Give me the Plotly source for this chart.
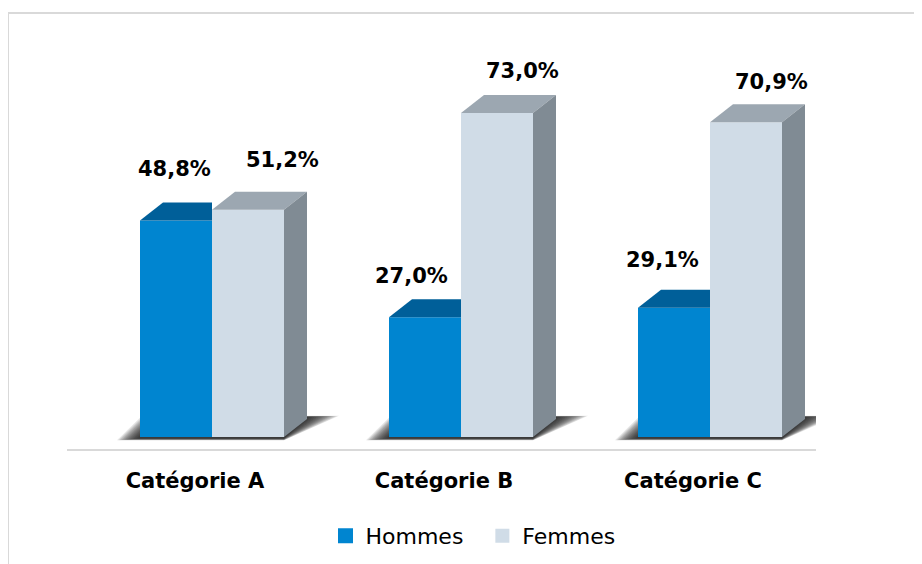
import plotly.graph_objects as go

categories = ["Catégorie A", "Catégorie B", "Catégorie C"]
hommes = [48.8, 27.0, 29.1]
femmes = [51.2, 73.0, 70.9]
series_names = ["Hommes", "Femmes"]
label_texts_h = ["48,8%", "27,0%", "29,1%"]
label_texts_f = ["51,2%", "73,0%", "70,9%"]

# ---- styling / geometry (pixels converted to axis units) ----
W, H = 922, 564
OFF = 8               # page body margin
PLOT_L, PLOT_R = 67 - OFF, 816 - OFF
PLOT_T, PLOT_B = 50 - OFF, 449 - OFF
BASE = 437 - OFF
ML, MR, MT, MB = PLOT_L, W - PLOT_R, PLOT_T, H - PLOT_B
PW, PH = PLOT_R - PLOT_L, PLOT_B - PLOT_T

PX_X = 249.0          # pixels per category unit
PX_Y = 4.438          # pixels per value unit
CAT0 = 195 - OFF      # pixel of first category tick
X0 = -(CAT0 - PLOT_L) / PX_X
X1 = X0 + PW / PX_X
Y0 = -(PLOT_B - BASE) / PX_Y
Y1 = Y0 + PH / PX_Y

GOFF = 17 / PX_X      # bar group shift right of the tick
BW = 72 / PX_X        # bar front width
DX = 23 / PX_X        # depth offset x
DY = 18 / PX_Y        # depth offset y

C_H_FRONT = "#0085D0"
C_H_TOP = "#005F99"
C_F_FRONT = "#D0DCE7"
C_F_TOP = "#9CA7B1"
C_F_SIDE = "#808B94"

LBL_DX_H = [-2, -14, -12]
LBL_DY_H = [51, 41, 48]
LBL_DX_F = [34, 25, 25]
LBL_DY_F = [50, 42, 40]

xs = list(range(len(categories)))
fig = go.Figure()

# front faces
fig.add_trace(go.Bar(x=xs, y=hommes, width=BW, offset=GOFF - BW, name=series_names[0],
                     marker=dict(color=C_H_FRONT, line=dict(width=0)), showlegend=False))
fig.add_trace(go.Bar(x=xs, y=femmes, width=BW, offset=GOFF, name=series_names[1],
                     marker=dict(color=C_F_FRONT, line=dict(width=0)), showlegend=False))


def poly(px, py, color):
    fig.add_trace(go.Scatter(x=px + [px[0]], y=py + [py[0]], mode="lines", fill="toself",
                             fillcolor=color, line=dict(width=0), showlegend=False,
                             hoverinfo="skip"))


shapes = []
for i, x in enumerate(xs):
    h, f = hommes[i], femmes[i]
    M = x + GOFF
    L, R = M - BW, M + BW
    # Hommes top (partly hidden behind Femmes front)
    poly([L, M, M, L + DX], [h, h, h + DY, h + DY], C_H_TOP)
    # Femmes top
    poly([M, R, R + DX, M + DX], [f, f, f + DY, f + DY], C_F_TOP)
    # Femmes side
    poly([R, R + DX, R + DX, R], [0, DY, f + DY, f], C_F_SIDE)

    # soft floor shadow: many stacked faint parallelograms
    for s in range(0, 31, 2):
        sx = s / PX_X
        fy = -(1.5 + s * 0.06) / PX_Y
        by = (20 + s * 0.04) / PX_Y
        path = (f"M {L - 2 / PX_X - sx * 0.7} {fy} "
                f"L {R} {fy} "
                f"L {R + DX + 2 / PX_X + sx} {by} "
                f"L {L + DX - sx * 0.7} {by} Z")
        shapes.append(dict(type="path", xref="x", yref="y", path=path, layer="below",
                           fillcolor="rgba(20,20,20,0.1)", line=dict(width=0)))

# outer border (left + top, light gray)
shapes.append(dict(type="rect", xref="paper", yref="paper",
                   x0=(13 - OFF - 5 - PLOT_L) / PW, x1=1.5,
                   y0=-0.5, y1=(PLOT_B - (13 - OFF)) / PH,
                   line=dict(color="#D9D9D9", width=2), fillcolor="rgba(0,0,0,0)",
                   layer="below"))

# legend entries (square markers)
fig.add_trace(go.Scatter(x=[None], y=[None], mode="markers", name=series_names[0] + "  ",
                         marker=dict(symbol="square", size=15, color=C_H_FRONT)))
fig.add_trace(go.Scatter(x=[None], y=[None], mode="markers", name=series_names[1],
                         marker=dict(symbol="square", size=14, color=C_F_FRONT)))

lbl_font = dict(family="DejaVu Sans", size=21, color="#000000", weight="bold")
annotations = []
for i, x in enumerate(xs):
    M = x + GOFF
    annotations.append(dict(x=M - BW / 2, y=hommes[i], text=label_texts_h[i], showarrow=False,
                            xshift=LBL_DX_H[i], yshift=LBL_DY_H[i], font=lbl_font))
    annotations.append(dict(x=M + BW / 2, y=femmes[i], text=label_texts_f[i], showarrow=False,
                            xshift=LBL_DX_F[i], yshift=LBL_DY_F[i], font=lbl_font))

fig.update_layout(
    width=W, height=H,
    margin=dict(l=ML, r=MR, t=MT, b=MB),
    paper_bgcolor="white", plot_bgcolor="white",
    barmode="overlay",
    showlegend=True,
    legend=dict(orientation="h", xanchor="center", x=(473 - OFF - PLOT_L) / PW,
                yanchor="middle", y=-(536 - OFF - PLOT_B) / PH,
                font=dict(family="DejaVu Sans", size=22, color="#000000"),
                itemwidth=30, traceorder="normal", itemsizing="trace"),
    xaxis=dict(range=[X0, X1], tickvals=xs, ticktext=categories, showgrid=False,
               zeroline=False, showline=True, linecolor="#D9D9D9", linewidth=2,
               ticks="", ticklabelstandoff=12,
               tickfont=dict(family="DejaVu Sans", size=21, color="#000000", weight="bold"),
               fixedrange=True),
    yaxis=dict(range=[Y0, Y1], showgrid=False, zeroline=False, showticklabels=False,
               showline=False, fixedrange=True),
    shapes=shapes,
    annotations=annotations,
)

fig.write_html("out.html")
